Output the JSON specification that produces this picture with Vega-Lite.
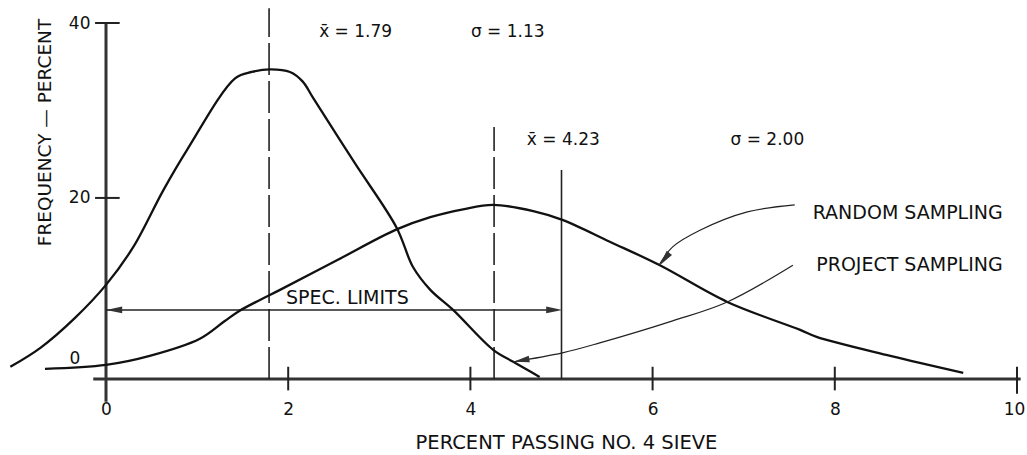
{
  "$schema": "https://vega.github.io/schema/vega-lite/v6.json",
  "width": 911,
  "height": 356,
  "autosize": {"type": "none"},
  "padding": {"left": 106, "top": 23, "right": 10, "bottom": 76},
  "background": "white",
  "config": {"view": {"stroke": null}, "font": "DejaVu Sans"},
  "datasets": {
    "curves": [
      {"series": "Project sampling", "x": -1.05, "y": 0.69},
      {"series": "Project sampling", "x": -0.72, "y": 2.86},
      {"series": "Project sampling", "x": -0.34, "y": 6.29},
      {"series": "Project sampling", "x": 0.0, "y": 10.06},
      {"series": "Project sampling", "x": 0.3, "y": 14.4},
      {"series": "Project sampling", "x": 0.63, "y": 20.9},
      {"series": "Project sampling", "x": 0.89, "y": 25.5},
      {"series": "Project sampling", "x": 1.42, "y": 33.7},
      {"series": "Project sampling", "x": 1.6, "y": 34.4},
      {"series": "Project sampling", "x": 1.8, "y": 34.7},
      {"series": "Project sampling", "x": 2.02, "y": 34.4},
      {"series": "Project sampling", "x": 2.16, "y": 33.3},
      {"series": "Project sampling", "x": 2.27, "y": 31.5},
      {"series": "Project sampling", "x": 2.73, "y": 24.0},
      {"series": "Project sampling", "x": 3.19, "y": 16.6},
      {"series": "Project sampling", "x": 3.37, "y": 12.1},
      {"series": "Project sampling", "x": 3.56, "y": 9.49},
      {"series": "Project sampling", "x": 3.81, "y": 7.2},
      {"series": "Project sampling", "x": 4.25, "y": 2.63},
      {"series": "Project sampling", "x": 4.47, "y": 1.26},
      {"series": "Project sampling", "x": 4.76, "y": -0.46},
      {"series": "Random sampling", "x": -0.67, "y": 0.46},
      {"series": "Random sampling", "x": 0.0, "y": 0.91},
      {"series": "Random sampling", "x": 0.48, "y": 1.94},
      {"series": "Random sampling", "x": 1.03, "y": 3.9},
      {"series": "Random sampling", "x": 1.3, "y": 5.9},
      {"series": "Random sampling", "x": 1.45, "y": 7.0},
      {"series": "Random sampling", "x": 1.69, "y": 8.34},
      {"series": "Random sampling", "x": 1.91, "y": 9.49},
      {"series": "Random sampling", "x": 2.54, "y": 12.9},
      {"series": "Random sampling", "x": 3.19, "y": 16.4},
      {"series": "Random sampling", "x": 3.56, "y": 17.8},
      {"series": "Random sampling", "x": 3.92, "y": 18.7},
      {"series": "Random sampling", "x": 4.25, "y": 19.2},
      {"series": "Random sampling", "x": 4.69, "y": 18.5},
      {"series": "Random sampling", "x": 5.01, "y": 17.5},
      {"series": "Random sampling", "x": 5.53, "y": 15.0},
      {"series": "Random sampling", "x": 6.08, "y": 12.3},
      {"series": "Random sampling", "x": 6.82, "y": 8.11},
      {"series": "Random sampling", "x": 7.62, "y": 4.91},
      {"series": "Random sampling", "x": 7.8, "y": 4.11},
      {"series": "Random sampling", "x": 8.61, "y": 1.94},
      {"series": "Random sampling", "x": 9.41, "y": 0.0}
    ],
    "pointers": [
      {"pointer": "random", "x": 7.56, "y": 19.2},
      {"pointer": "random", "x": 7.04, "y": 18.4},
      {"pointer": "random", "x": 6.52, "y": 16.3},
      {"pointer": "random", "x": 6.22, "y": 14.4},
      {"pointer": "random", "x": 6.07, "y": 12.3},
      {"pointer": "project", "x": 7.54, "y": 12.3},
      {"pointer": "project", "x": 6.82, "y": 8.11},
      {"pointer": "project", "x": 6.22, "y": 5.95},
      {"pointer": "project", "x": 5.42, "y": 3.43},
      {"pointer": "project", "x": 5.01, "y": 2.29},
      {"pointer": "project", "x": 4.47, "y": 1.26}
    ],
    "heads": [
      {"x": 0.09, "y": 7.2, "angle": 180},
      {"x": 4.92, "y": 7.2, "angle": 0},
      {"x": 6.13, "y": 13.0, "angle": 128},
      {"x": 4.56, "y": 1.43, "angle": 170}
    ],
    "vlines": [
      {"kind": "mean", "x": 1.79, "y": -0.7, "y2": 41.7},
      {"kind": "mean", "x": 4.26, "y": -0.7, "y2": 28.1},
      {"kind": "limit", "x": 5.0, "y": -0.7, "y2": 23.2}
    ],
    "frame": [
      {"kind": "axis", "x": -0.14, "x2": 10.04, "y": -0.7, "y2": -0.7},
      {"kind": "axis", "x": 0, "x2": 0, "y": 40, "y2": -3.3},
      {"kind": "tick", "x": 2, "x2": 2, "y": 0.7, "y2": -2.0},
      {"kind": "tick", "x": 4, "x2": 4, "y": 0.7, "y2": -2.0},
      {"kind": "tick", "x": 6, "x2": 6, "y": 0.7, "y2": -2.0},
      {"kind": "tick", "x": 8, "x2": 8, "y": 0.7, "y2": -2.0},
      {"kind": "tick", "x": 10, "x2": 10, "y": 0.7, "y2": -2.4},
      {"kind": "tick", "x": -0.12, "x2": 0.15, "y": 20, "y2": 20},
      {"kind": "tick", "x": -0.12, "x2": 0.15, "y": 40, "y2": 40},
      {"kind": "spec", "x": 0.0, "x2": 4.95, "y": 7.2, "y2": 7.2}
    ],
    "notes": [
      {"kind": "stat", "x": 2.74, "y": 38.97, "text": "x̄   =   1.79"},
      {"kind": "stat", "x": 4.41, "y": 38.97, "text": "σ   =   1.13"},
      {"kind": "stat", "x": 5.02, "y": 26.6, "text": "x̄   =   4.23"},
      {"kind": "stat", "x": 7.26, "y": 26.6, "text": "σ   =   2.00"},
      {"kind": "label", "x": 8.8, "y": 18.3, "text": "RANDOM SAMPLING"},
      {"kind": "label", "x": 8.82, "y": 12.34, "text": "PROJECT SAMPLING"},
      {"kind": "label", "x": 2.65, "y": 8.57, "text": "SPEC. LIMITS"},
      {"kind": "zero", "x": -0.34, "y": 1.6, "text": "0"}
    ]
  },
  "encoding": {
    "x": {
      "field": "x",
      "type": "quantitative",
      "scale": {"domain": [0, 10], "nice": false, "zero": false},
      "axis": {
        "values": [0, 2, 4, 6, 8, 10],
        "format": "d",
        "domain": false,
        "ticks": false,
        "tickSize": 0,
        "grid": false,
        "labelFlush": false,
        "labelPadding": 22,
        "labelOffset": {"condition": {"test": "datum.value === 10", "value": -3}, "value": 0},
        "labelFont": "DejaVu Sans",
        "labelFontSize": 17,
        "labelColor": "#111",
        "title": "PERCENT PASSING NO. 4 SIEVE",
        "titleFont": "DejaVu Sans",
        "titleFontSize": 19.5,
        "titleFontWeight": "normal",
        "titleColor": "#111",
        "titleX": 460,
        "titleY": 63,
        "titleAlign": "center",
        "titleBaseline": "middle"
      }
    },
    "y": {
      "field": "y",
      "type": "quantitative",
      "scale": {"domain": [-0.7, 40], "nice": false, "zero": false},
      "axis": {
        "values": [20, 40],
        "format": "d",
        "domain": false,
        "ticks": false,
        "tickSize": 0,
        "grid": false,
        "labelPadding": 16,
        "labelFont": "DejaVu Sans",
        "labelFontSize": 17,
        "labelColor": "#111",
        "title": "FREQUENCY — PERCENT",
        "titleFont": "DejaVu Sans",
        "titleFontSize": 18.5,
        "titleFontWeight": "normal",
        "titleColor": "#111",
        "titleAngle": -90,
        "titleX": -62,
        "titleY": 109,
        "titleAlign": "center",
        "titleBaseline": "middle"
      }
    }
  },
  "layer": [
    {
      "data": {"name": "frame"},
      "transform": [{"filter": "datum.kind === 'axis'"}],
      "mark": {"type": "rule", "color": "#333", "strokeWidth": 3},
      "encoding": {"x2": {"field": "x2"}, "y2": {"field": "y2"}}
    },
    {
      "data": {"name": "frame"},
      "transform": [{"filter": "datum.kind === 'tick'"}],
      "mark": {"type": "rule", "color": "#222", "strokeWidth": 2},
      "encoding": {"x2": {"field": "x2"}, "y2": {"field": "y2"}}
    },
    {
      "data": {"name": "frame"},
      "transform": [{"filter": "datum.kind === 'spec'"}],
      "mark": {"type": "rule", "color": "#222", "strokeWidth": 1.5},
      "encoding": {"x2": {"field": "x2"}, "y2": {"field": "y2"}}
    },
    {
      "data": {"name": "vlines"},
      "transform": [{"filter": "datum.kind === 'mean'"}],
      "mark": {"type": "rule", "color": "#222", "strokeWidth": 1.6, "strokeDash": [32, 6]},
      "encoding": {"y2": {"field": "y2"}}
    },
    {
      "data": {"name": "vlines"},
      "transform": [{"filter": "datum.kind === 'limit'"}],
      "mark": {"type": "rule", "color": "#222", "strokeWidth": 1.6},
      "encoding": {"y2": {"field": "y2"}}
    },
    {
      "data": {"name": "curves"},
      "mark": {"type": "line", "color": "#111", "strokeWidth": 2.3, "interpolate": "catmull-rom"},
      "encoding": {"detail": {"field": "series"}}
    },
    {
      "data": {"name": "pointers"},
      "mark": {"type": "line", "color": "#222", "strokeWidth": 1.2, "interpolate": "catmull-rom"},
      "encoding": {"detail": {"field": "pointer"}}
    },
    {
      "data": {"name": "heads"},
      "mark": {"type": "point", "shape": "M1,0L-1,-0.42L-1,0.42Z", "filled": true, "color": "#333", "opacity": 1, "size": 256},
      "encoding": {"angle": {"field": "angle", "type": "quantitative", "scale": null}}
    },
    {
      "data": {"name": "notes"},
      "transform": [{"filter": "datum.kind === 'stat'"}],
      "mark": {"type": "text", "font": "DejaVu Sans", "fontSize": 17, "color": "#111", "align": "center", "baseline": "middle"},
      "encoding": {"text": {"field": "text"}}
    },
    {
      "data": {"name": "notes"},
      "transform": [{"filter": "datum.kind === 'label'"}],
      "mark": {"type": "text", "font": "DejaVu Sans", "fontSize": 19, "color": "#111", "align": "center", "baseline": "middle"},
      "encoding": {"text": {"field": "text"}}
    },
    {
      "data": {"name": "notes"},
      "transform": [{"filter": "datum.kind === 'zero'"}],
      "mark": {"type": "text", "font": "DejaVu Sans", "fontSize": 17, "color": "#111", "align": "center", "baseline": "middle"},
      "encoding": {"text": {"field": "text"}}
    }
  ]
}
